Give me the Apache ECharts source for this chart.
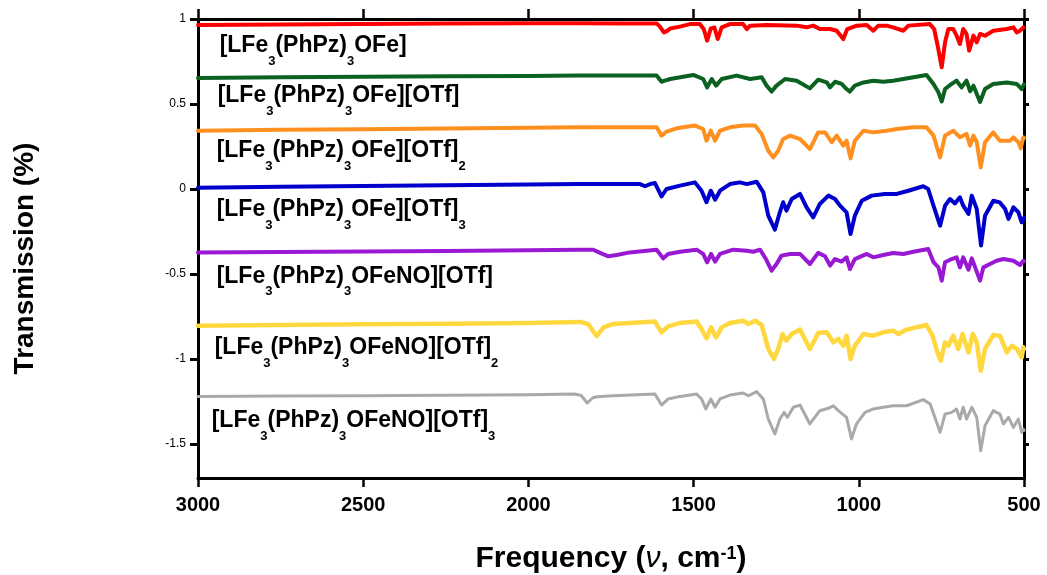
<!DOCTYPE html>
<html>
<head>
<meta charset="utf-8">
<script src="https://cdn.jsdelivr.net/npm/echarts@6/dist/echarts.min.js"></script>
<style>
html,body{margin:0;padding:0;background:#fff;}
#chart{width:1047px;height:575px;}
</style>
</head>
<body>
<div id="chart"></div>
<script>
// ---- data ----
var xTicks = [500, 1000, 1500, 2000, 2500, 3000];
var yTicks = [-1.5, -1, -0.5, 0, 0.5, 1];

var seriesNames = [
  '[LFe3(PhPz)3OFe]',
  '[LFe3(PhPz)3OFe][OTf]',
  '[LFe3(PhPz)3OFe][OTf]2',
  '[LFe3(PhPz)3OFe][OTf]3',
  '[LFe3(PhPz)3OFeNO][OTf]',
  '[LFe3(PhPz)3OFeNO][OTf]2',
  '[LFe3(PhPz)3OFeNO][OTf]3'
];
var richLabels = [
  '{m|[LFe}{s|3}{m|(PhPz)}{s|3}{m|OFe]}',
  '{m|[LFe}{s|3}{m|(PhPz)}{s|3}{m|OFe][OTf]}',
  '{m|[LFe}{s|3}{m|(PhPz)}{s|3}{m|OFe][OTf]}{s|2}',
  '{m|[LFe}{s|3}{m|(PhPz)}{s|3}{m|OFe][OTf]}{s|3}',
  '{m|[LFe}{s|3}{m|(PhPz)}{s|3}{m|OFeNO][OTf]}',
  '{m|[LFe}{s|3}{m|(PhPz)}{s|3}{m|OFeNO][OTf]}{s|2}',
  '{m|[LFe}{s|3}{m|(PhPz)}{s|3}{m|OFeNO][OTf]}{s|3}'
];
// label anchor (top-left) in data units [wavenumber, transmission]
var labelAnchors = [
  [2933, 0.905], [2939, 0.611], [2942, 0.288], [2942, -0.059],
  [2942, -0.448], [2948, -0.871], [2957, -1.300]
];

var red = [[3000,0.965],[2750,0.968],[2500,0.971],[2250,0.973],[2000,0.975],[1850,0.975],[1700,0.974],[1612,0.974],[1602,0.955],[1590,0.921],[1580,0.93],[1570,0.945],[1551,0.951],[1511,0.97],[1481,0.97],[1469,0.94],[1459,0.873],[1448,0.945],[1437,0.95],[1427,0.882],[1415,0.951],[1390,0.97],[1350,0.97],[1339,0.941],[1329,0.961],[1279,0.965],[1188,0.961],[1158,0.951],[1138,0.961],[1118,0.941],[1087,0.941],[1067,0.931],[1047,0.882],[1035,0.941],[1006,0.961],[976,0.965],[956,0.931],[941,0.961],[916,0.961],[896,0.951],[865,0.931],[850,0.961],[785,0.97],[772,0.941],[762,0.85],[749,0.716],[739,0.863],[729,0.941],[714,0.941],[704,0.902],[694,0.853],[684,0.941],[674,0.912],[666,0.814],[653,0.902],[643,0.863],[633,0.912],[618,0.902],[593,0.931],[552,0.941],[532,0.951],[522,0.921],[512,0.931],[502,0.951],[500,0.95]];

var green = [[3000,0.653],[2750,0.657],[2500,0.66],[2250,0.663],[2000,0.665],[1850,0.667],[1612,0.667],[1597,0.631],[1587,0.637],[1571,0.647],[1501,0.671],[1471,0.647],[1459,0.598],[1445,0.647],[1432,0.608],[1415,0.647],[1370,0.667],[1329,0.647],[1294,0.657],[1279,0.608],[1264,0.573],[1249,0.608],[1223,0.647],[1188,0.637],[1148,0.592],[1123,0.643],[1097,0.627],[1087,0.598],[1072,0.631],[1052,0.618],[1037,0.588],[1027,0.573],[1012,0.608],[986,0.627],[956,0.637],[926,0.631],[896,0.637],[865,0.647],[795,0.671],[774,0.618],[759,0.569],[749,0.515],[739,0.588],[719,0.618],[704,0.637],[689,0.598],[674,0.637],[663,0.575],[653,0.608],[633,0.512],[618,0.588],[593,0.618],[552,0.627],[522,0.618],[507,0.588],[500,0.615]];

var orange = [[3000,0.343],[2750,0.348],[2500,0.352],[2250,0.356],[2000,0.36],[1850,0.363],[1612,0.363],[1597,0.314],[1582,0.337],[1551,0.357],[1496,0.373],[1471,0.353],[1461,0.284],[1448,0.343],[1435,0.284],[1420,0.343],[1390,0.363],[1350,0.373],[1314,0.373],[1294,0.324],[1274,0.225],[1259,0.186],[1244,0.225],[1229,0.294],[1208,0.314],[1178,0.294],[1148,0.235],[1123,0.333],[1102,0.333],[1082,0.275],[1067,0.314],[1047,0.255],[1037,0.284],[1025,0.18],[1012,0.284],[986,0.343],[956,0.333],[916,0.343],[885,0.353],[835,0.363],[795,0.363],[774,0.314],[754,0.186],[739,0.314],[714,0.343],[694,0.304],[674,0.324],[663,0.255],[653,0.314],[643,0.275],[631,0.127],[618,0.275],[593,0.333],[573,0.284],[542,0.284],[532,0.304],[517,0.275],[510,0.239],[502,0.304],[500,0.3]];

var blue = [[3000,0.008],[2750,0.013],[2500,0.018],[2250,0.022],[2000,0.026],[1850,0.029],[1662,0.029],[1647,0.016],[1630,0.03],[1617,0.035],[1597,-0.043],[1582,0],[1541,0.02],[1496,0.039],[1476,-0.01],[1461,-0.078],[1448,-0.01],[1435,-0.063],[1420,-0.01],[1390,0.029],[1360,0.039],[1339,0.029],[1309,0.043],[1289,-0.02],[1274,-0.157],[1254,-0.239],[1239,-0.137],[1229,-0.078],[1219,-0.127],[1203,-0.059],[1178,-0.029],[1158,-0.108],[1138,-0.167],[1118,-0.088],[1092,-0.039],[1072,-0.059],[1057,-0.098],[1037,-0.137],[1025,-0.265],[1012,-0.157],[991,-0.069],[961,-0.039],[921,-0.029],[885,-0.029],[850,-0.01],[805,0.016],[790,0],[774,-0.098],[754,-0.216],[739,-0.098],[724,-0.059],[709,-0.085],[694,-0.049],[684,-0.098],[668,-0.147],[658,-0.039],[643,-0.118],[630,-0.333],[618,-0.157],[593,-0.069],[573,-0.079],[557,-0.118],[547,-0.176],[532,-0.108],[517,-0.137],[507,-0.196],[500,-0.17]];

var purple = [[3000,-0.373],[2750,-0.37],[2500,-0.367],[2250,-0.364],[2000,-0.36],[1844,-0.357],[1804,-0.357],[1783,-0.376],[1758,-0.396],[1733,-0.388],[1693,-0.373],[1612,-0.357],[1592,-0.408],[1577,-0.382],[1541,-0.369],[1491,-0.357],[1471,-0.382],[1459,-0.431],[1447,-0.382],[1435,-0.427],[1420,-0.382],[1380,-0.357],[1339,-0.363],[1319,-0.369],[1299,-0.357],[1281,-0.412],[1264,-0.48],[1249,-0.441],[1234,-0.392],[1208,-0.382],[1178,-0.382],[1148,-0.441],[1123,-0.376],[1102,-0.396],[1087,-0.451],[1072,-0.412],[1052,-0.427],[1037,-0.402],[1027,-0.471],[1012,-0.412],[976,-0.382],[956,-0.402],[926,-0.388],[896,-0.376],[865,-0.382],[835,-0.369],[790,-0.353],[774,-0.43],[759,-0.461],[749,-0.539],[739,-0.431],[719,-0.412],[704,-0.402],[694,-0.461],[684,-0.402],[668,-0.475],[658,-0.408],[633,-0.539],[623,-0.461],[603,-0.441],[583,-0.422],[562,-0.412],[532,-0.422],[512,-0.447],[502,-0.422],[500,-0.425]];

var yellow = [[3000,-0.804],[2750,-0.8],[2500,-0.796],[2250,-0.792],[2000,-0.788],[1844,-0.782],[1819,-0.794],[1803,-0.84],[1793,-0.865],[1773,-0.814],[1743,-0.794],[1693,-0.788],[1617,-0.78],[1597,-0.843],[1577,-0.808],[1541,-0.788],[1491,-0.78],[1476,-0.824],[1461,-0.878],[1447,-0.814],[1432,-0.873],[1415,-0.814],[1390,-0.788],[1350,-0.775],[1334,-0.794],[1314,-0.775],[1294,-0.8],[1274,-0.941],[1257,-1.0],[1244,-0.941],[1231,-0.853],[1219,-0.892],[1203,-0.853],[1178,-0.827],[1148,-0.941],[1123,-0.847],[1097,-0.843],[1077,-0.902],[1062,-0.882],[1047,-0.922],[1037,-0.863],[1025,-1.0],[1012,-0.922],[986,-0.853],[956,-0.863],[926,-0.843],[896,-0.833],[880,-0.853],[855,-0.827],[795,-0.8],[777,-0.863],[762,-0.961],[752,-1.01],[739,-0.902],[729,-0.922],[714,-0.863],[699,-0.941],[686,-0.853],[668,-0.961],[655,-0.853],[643,-0.902],[631,-1.069],[618,-0.941],[593,-0.859],[573,-0.863],[552,-0.961],[537,-0.922],[522,-0.941],[507,-0.99],[502,-0.931],[500,-0.94]];

var grey = [[3000,-1.22],[2750,-1.218],[2500,-1.216],[2250,-1.213],[2000,-1.21],[1860,-1.206],[1840,-1.215],[1822,-1.259],[1805,-1.228],[1793,-1.222],[1743,-1.216],[1617,-1.206],[1597,-1.271],[1577,-1.235],[1541,-1.22],[1491,-1.206],[1476,-1.235],[1463,-1.294],[1448,-1.235],[1435,-1.284],[1420,-1.235],[1390,-1.212],[1350,-1.2],[1334,-1.216],[1309,-1.192],[1289,-1.235],[1274,-1.353],[1254,-1.441],[1239,-1.353],[1226,-1.314],[1216,-1.343],[1198,-1.284],[1178,-1.271],[1148,-1.382],[1118,-1.304],[1092,-1.29],[1077,-1.275],[1062,-1.304],[1037,-1.343],[1022,-1.47],[1007,-1.382],[981,-1.314],[956,-1.294],[926,-1.284],[896,-1.275],[855,-1.275],[805,-1.239],[784,-1.265],[768,-1.353],[754,-1.431],[739,-1.324],[719,-1.314],[704,-1.294],[694,-1.353],[684,-1.284],[674,-1.353],[658,-1.284],[643,-1.343],[631,-1.539],[618,-1.392],[593,-1.304],[573,-1.324],[562,-1.382],[547,-1.343],[532,-1.402],[517,-1.353],[507,-1.431],[502,-1.412],[500,-1.42]];

var seriesData = [red, green, orange, blue, purple, yellow, grey];
var seriesColors = ['#ff0000', '#0b6120', '#ff8f1f', '#0000cc', '#9818d4', '#ffd83f', '#a9a9a9'];
var seriesWidths = [4, 4, 4, 4, 4, 4.5, 3];

// ---- chart ----
var FONT = 'Liberation Sans, Arial, sans-serif';
var chart = echarts.init(document.getElementById('chart'), null, {renderer: 'canvas'});

var labelRich = {
  m: {fontFamily: FONT, fontSize: 23, fontWeight: 'bold', color: '#000', lineHeight: 26, verticalAlign: 'top'},
  s: {fontFamily: FONT, fontSize: 13, fontWeight: 'bold', color: '#000', lineHeight: 14, verticalAlign: 'top', padding: [20, 0, 0, 0]}
};

var series = seriesData.map(function (d, i) {
  return {
    name: seriesNames[i],
    type: 'line',
    data: d,
    showSymbol: false,
    symbol: 'none',
    smooth: false,
    clip: true,
    lineStyle: {color: seriesColors[i], width: seriesWidths[i], join: 'round', cap: 'round'},
    itemStyle: {color: seriesColors[i]},
    z: 2,
    markPoint: {
      silent: true,
      symbol: 'circle',
      symbolSize: 1,
      itemStyle: {color: 'rgba(0,0,0,0)'},
      data: [{coord: labelAnchors[i]}],
      label: {
        show: true,
        position: [0, 0],
        align: 'left',
        verticalAlign: 'top',
        formatter: function () { return richLabels[i]; },
        rich: labelRich
      }
    }
  };
});

var axisLineStyle = {color: '#000', width: 3};

var option = {
  animation: false,
  backgroundColor: '#fff',
  grid: {left: 198, right: 23, top: 19, bottom: 97, containLabel: false, outerBoundsMode: 'none'},
  xAxis: [
    {
      type: 'value', min: 500, max: 3000, interval: 500, inverse: true, position: 'bottom',
      axisLine: {show: true, onZero: false, lineStyle: axisLineStyle},
      axisTick: {show: true, inside: false, length: 9, lineStyle: {color: '#000', width: 2.5}},
      axisLabel: {show: true, margin: 17, color: '#000', fontFamily: FONT, fontWeight: 'bold', fontSize: 20,
        showMinLabel: true, showMaxLabel: true,
        formatter: function (v) { return String(v); }},
      splitLine: {show: false},
      name: '{b|Frequency (}{i|ν}{b|, cm}{sup|-1}{b|)}',
      nameLocation: 'middle',
      nameGap: 66,
      nameTextStyle: {
        rich: {
          b: {fontFamily: FONT, fontSize: 30, fontWeight: 'bold', color: '#000', lineHeight: 34, verticalAlign: 'top'},
          i: {fontFamily: FONT, fontSize: 30, fontStyle: 'italic', color: '#000', lineHeight: 34, verticalAlign: 'top'},
          sup: {fontFamily: FONT, fontSize: 18, fontWeight: 'bold', color: '#000', lineHeight: 18, verticalAlign: 'top', padding: [1, 0, 0, 0]}
        }
      }
    },
    {
      type: 'value', min: 500, max: 3000, interval: 500, inverse: true, position: 'top',
      axisLine: {show: true, onZero: false, lineStyle: axisLineStyle},
      axisTick: {show: true, inside: false, length: 10, lineStyle: {color: '#000', width: 2.5}},
      axisLabel: {show: false},
      splitLine: {show: false}
    }
  ],
  yAxis: [
    {
      type: 'value', min: -1.7, max: 1, position: 'left',
      axisLine: {show: true, onZero: false, lineStyle: axisLineStyle},
      axisTick: {show: true, inside: false, length: 8, customValues: yTicks, lineStyle: {color: '#000', width: 3}},
      axisLabel: {show: true, customValues: yTicks, margin: 12, color: '#000', fontFamily: FONT, fontSize: 12},
      splitLine: {show: false},
      name: 'Transmission (%)',
      nameLocation: 'middle',
      nameGap: 159,
      nameTextStyle: {fontFamily: FONT, fontSize: 28, fontWeight: 'bold', color: '#000', padding: [0, 20, 0, 0]}
    },
    {
      type: 'value', min: -1.7, max: 1, position: 'right',
      axisLine: {show: true, onZero: false, lineStyle: axisLineStyle},
      axisTick: {show: true, inside: false, length: 5, customValues: yTicks, lineStyle: {color: '#000', width: 3}},
      axisLabel: {show: false},
      splitLine: {show: false}
    }
  ],
  series: series
};
chart.setOption(option);
</script>
</body>
</html>
